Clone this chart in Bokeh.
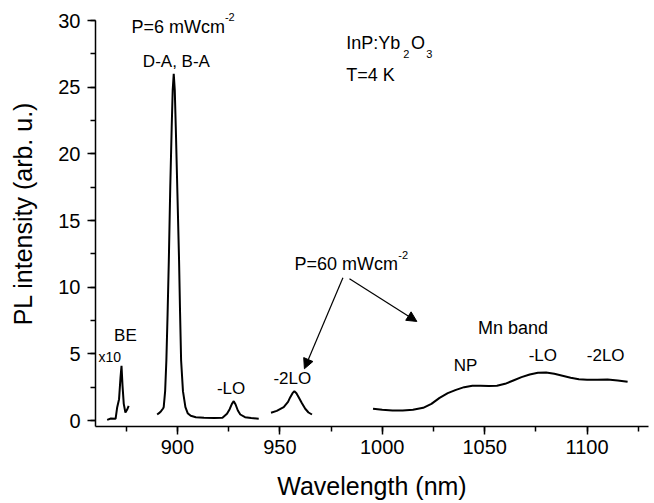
from bokeh.plotting import figure
from bokeh.models import Range1d, SingleIntervalTicker, Label, Arrow, NormalHead
from bokeh.embed import file_html
from bokeh.resources import INLINE

FONT = "Liberation Sans"

# BE band (x10)
be_wl = [865.7, 867.5, 869.8, 870.6, 871.5, 872.2, 872.7, 873.2, 873.8, 874.6, 875.4, 876.2]
be_int = [0.05, 0.15, 0.13, 1.0, 1.6, 3.2, 4.1, 2.6, 1.25, 0.6, 0.8, 1.1]

# D-A, B-A main line and -LO replica
da_wl = [890.1, 891.0, 892.0, 893.0, 893.3, 894.0, 894.6, 895.2, 895.8, 896.5, 897.2, 897.7,
         898.2, 898.7, 899.2, 900.0, 900.8, 901.3, 901.8, 902.7, 903.9, 905.0, 906.5,
         909.0, 913.0, 918.0, 922.0, 924.2, 925.5, 926.6, 927.5, 928.4, 929.5, 930.7,
         933.0, 936.0, 939.7]
da_int = [0.45, 0.55, 0.7, 0.9, 1.0, 2.2, 4.5, 8.0, 12.0, 17.5, 22.0, 24.8,
          26.0, 24.8, 22.0, 17.0, 12.0, 8.0, 4.5, 2.2, 1.0, 0.55, 0.35,
          0.25, 0.2, 0.18, 0.2, 0.5, 0.85, 1.25, 1.45, 1.2, 0.75, 0.45,
          0.25, 0.18, 0.13]

# -2LO replica (P=60 mWcm-2)
lo2_wl = [945.7, 948.5, 951.9, 954.0, 955.1, 956.2, 957.1, 958.1, 959.2, 960.8, 962.4, 964.0, 965.7]
lo2_int = [0.58, 0.72, 1.0, 1.4, 1.75, 2.05, 2.2, 2.05, 1.75, 1.3, 0.88, 0.6, 0.45]

# Mn band (P=60 mWcm-2)
mn_wl = [995.5, 1000, 1005, 1010, 1015, 1020, 1024, 1028, 1032, 1036, 1040, 1044, 1048,
         1052, 1056, 1060, 1064, 1068, 1072, 1076, 1080, 1084, 1088, 1092, 1096, 1100,
         1105, 1110, 1115, 1119.8]
mn_int = [0.88, 0.8, 0.75, 0.75, 0.8, 0.95, 1.25, 1.7, 2.05, 2.3, 2.5, 2.6, 2.6,
          2.58, 2.6, 2.75, 3.0, 3.25, 3.45, 3.58, 3.6, 3.5, 3.35, 3.2, 3.1, 3.05,
          3.05, 3.07, 3.0, 2.9]

p = figure(width=652, height=503, output_backend="svg", toolbar_location=None,
           x_range=Range1d(860, 1130), y_range=Range1d(-0.45, 31.5),
           min_border_left=95, min_border_right=4, min_border_top=0, min_border_bottom=77)
p.outline_line_color = None
p.xgrid.visible = False
p.ygrid.visible = False
p.background_fill_color = "white"
p.border_fill_color = "white"

for ax in (p.xaxis[0], p.yaxis[0]):
    ax.axis_line_width = 1.5
    ax.major_tick_line_width = 1.5
    ax.minor_tick_line_width = 1.5
    ax.major_tick_out = 8
    ax.major_tick_in = 0
    ax.minor_tick_out = 5
    ax.minor_tick_in = 0
    ax.major_label_text_font = FONT
    ax.major_label_text_font_size = "20px"
    ax.major_label_text_color = "black"
    ax.axis_label_text_font = FONT
    ax.axis_label_text_font_size = "25px"
    ax.axis_label_text_font_style = "normal"
    ax.axis_label_text_color = "black"
    ax.axis_line_color = "black"
    ax.major_tick_line_color = "black"
    ax.minor_tick_line_color = "black"

p.xaxis.ticker = SingleIntervalTicker(interval=50, num_minor_ticks=2)
p.yaxis.ticker = SingleIntervalTicker(interval=5, num_minor_ticks=2)
p.yaxis.bounds = (-0.45, 30)
p.xaxis.axis_label = "Wavelength (nm)"
p.yaxis.axis_label = "PL intensity (arb. u.)"
p.xaxis.major_label_standoff = 5
p.xaxis.axis_label_standoff = 15
p.yaxis.major_label_standoff = 7
p.yaxis.axis_label_standoff = 18

for xs, ys in ((be_wl, be_int), (da_wl, da_int), (lo2_wl, lo2_int), (mn_wl, mn_int)):
    p.line(xs, ys, line_color="black", line_width=2)


def lab(x, y, t, size="17px", align="left"):
    p.add_layout(Label(x=x, y=y, text=t, text_font=FONT, text_font_size=size,
                       text_align=align, text_baseline="middle", text_color="black"))


lab(877.6, 29.55, "P=6 mWcm", "18px")
lab(923.2, 30.25, "-2", "11px")
lab(899.5, 26.93, "D-A, B-A", align="center")
lab(982.4, 28.28, "InP:Yb", "18px")
lab(1010.2, 27.5, "2", "11px")
lab(1014.0, 28.28, "O", "18px")
lab(1021.5, 27.5, "3", "11px")
lab(982.4, 25.88, "T=4 K", "18px")
lab(957.1, 11.75, "P=60 mWcm", "18px")
lab(1007.8, 12.41, "-2", "11px")
lab(861.5, 4.75, "x10", "14px")
lab(874.6, 6.375, "BE", align="center")
lab(926.2, 2.38, "-LO", align="center")
lab(956.1, 3.13, "-2LO", align="center")
lab(1063.8, 6.95, "Mn band", "18px", align="center")
lab(1040.7, 4.13, "NP", align="center")
lab(1078.4, 4.88, "-LO", align="center")
lab(1109.1, 4.88, "-2LO", align="center")

for xs, ys, xe, ye in ((980.8, 10.7, 962.0, 3.88), (984.0, 10.63, 1016.9, 7.43)):
    p.add_layout(Arrow(end=NormalHead(size=10, fill_color="black", line_color="black"),
                       x_start=xs, y_start=ys, x_end=xe, y_end=ye,
                       line_color="black", line_width=1.2))

open("out.html", "w").write(file_html(p, INLINE))
